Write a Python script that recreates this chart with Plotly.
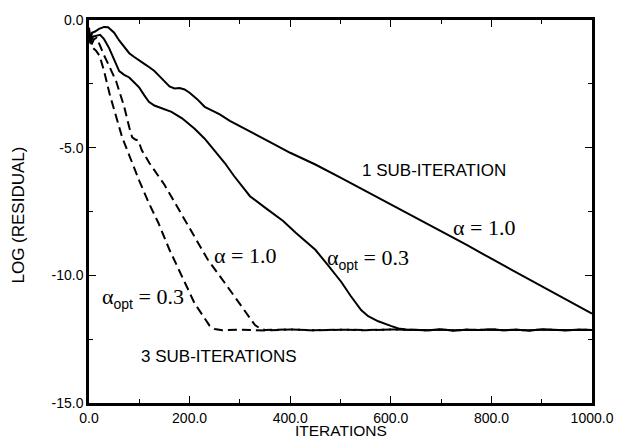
import plotly.graph_objects as go

# ---- data ----
flat_x = [650, 675, 700, 725, 750, 775, 800, 825, 850, 875, 900, 925, 950, 975, 1000]
flat_y = [-12.13, -12.15, -12.12, -12.16, -12.13, -12.14, -12.12, -12.15, -12.13, -12.16, -12.12, -12.14, -12.15, -12.13, -12.14]

one_alpha1_x = [0, 3, 6, 12, 20, 30, 38, 50, 60, 70, 80, 90, 100, 110, 120, 130, 140, 150, 160, 170, 180, 190,
                200, 215, 230, 245, 260, 280, 300, 320, 360, 400, 450, 500, 550, 600, 650, 700, 750, 800,
                850, 900, 950, 1000]
one_alpha1_y = [-0.3, -0.8, -0.5, -0.45, -0.35, -0.27, -0.28, -0.5, -0.8, -1.05, -1.3, -1.45, -1.6, -1.72, -1.85,
                -2.0, -2.2, -2.4, -2.6, -2.68, -2.66, -2.72, -2.85, -3.1, -3.4, -3.55, -3.7, -3.95, -4.15, -4.38,
                -4.78, -5.2, -5.66, -6.17, -6.69, -7.21, -7.74, -8.28, -8.8, -9.35, -9.88, -10.42, -10.95, -11.5]

one_opt_x = [0, 3, 8, 15, 22, 30, 40, 50, 60, 70, 80, 90, 100, 110, 119, 130, 145, 164, 185, 210, 230, 249, 270,
             288, 305, 320, 350, 372, 386, 411, 430, 450, 475, 502, 520, 541, 555, 575, 600, 615, 630]
one_opt_y = [-0.4, -0.9, -0.65, -0.62, -0.58, -0.75, -1.1, -1.55, -2.0, -2.15, -2.25, -2.45, -2.65, -2.95, -3.2,
             -3.35, -3.45, -3.6, -3.85, -4.26, -4.65, -5.1, -5.6, -6.1, -6.55, -6.9, -7.35, -7.67, -7.87, -8.33,
             -8.65, -9.0, -9.6, -10.27, -10.8, -11.36, -11.6, -11.8, -11.98, -12.08, -12.12]

three_alpha1_x = [0, 4, 10, 15, 22, 28, 40, 54, 62, 70, 80, 86, 92, 98, 105, 120, 150, 171, 191, 215, 236, 269,
                  290, 320, 330, 340, 350, 400, 450, 500, 550, 600]
three_alpha1_y = [-0.5, -1.0, -0.75, -0.7, -1.0, -1.3, -1.8, -2.4, -2.9, -3.4, -4.2, -4.6, -4.68, -4.72, -5.1,
                  -5.6, -6.45, -7.17, -7.8, -8.65, -9.38, -10.27, -10.85, -11.7, -11.95, -12.08, -12.14,
                  -12.12, -12.16, -12.13, -12.15, -12.12]

three_opt_x = [0, 4, 8, 14, 21, 30, 41, 50, 60, 66, 80, 100, 119, 138, 160, 177, 191, 210, 230, 240, 250, 265,
               300, 350, 400, 450, 500, 550, 600]
three_opt_y = [-0.6, -1.0, -1.1, -1.2, -1.4, -2.0, -2.9, -3.5, -4.2, -4.6, -5.3, -6.3, -7.17, -7.95, -9.0, -9.75,
               -10.3, -11.1, -11.7, -11.98, -12.1, -12.15, -12.13, -12.16, -12.12, -12.15, -12.13, -12.14, -12.12]

x_tickvals = [0, 200, 400, 600, 800, 1000]
x_ticktext = ["0.0", "200.0", "400.0", "600.0", "800.0", "1000.0"]
y_tickvals = [0, -5, -10, -15]
y_ticktext = ["0.0", "-5.0", "-10.0", "-15.0"]

SANS = "Liberation Sans, Arial, sans-serif"
SERIF = "Liberation Serif, Times New Roman, serif"

fig = go.Figure()
solid = dict(color="black", width=2)
dashed = dict(color="black", width=2, dash="9px,5px")

fig.add_trace(go.Scatter(x=one_alpha1_x, y=one_alpha1_y, mode="lines", line=solid))
fig.add_trace(go.Scatter(x=one_opt_x + flat_x, y=one_opt_y + flat_y, mode="lines", line=solid))
fig.add_trace(go.Scatter(x=three_alpha1_x + flat_x, y=three_alpha1_y + flat_y, mode="lines", line=dashed))
fig.add_trace(go.Scatter(x=three_opt_x + flat_x, y=three_opt_y + flat_y, mode="lines", line=dashed))

sub = "<sub><span style='font-family:Liberation Sans, Arial, sans-serif;font-size:14px'>opt</span></sub>"
annos = [
    dict(x=686, y=-5.89, text="1 SUB-ITERATION", font=dict(family=SANS, size=17)),
    dict(x=259, y=-13.18, text="3 SUB-ITERATIONS", font=dict(family=SANS, size=17)),
    dict(x=786, y=-8.14, text="α = 1.0", font=dict(family=SERIF, size=22)),
    dict(x=311, y=-9.22, text="α = 1.0", font=dict(family=SERIF, size=22)),
    dict(x=554, y=-9.35, text="α" + sub + " = 0.3", font=dict(family=SERIF, size=22)),
    dict(x=107, y=-10.9, text="α" + sub + " = 0.3", font=dict(family=SERIF, size=22)),
]
for a in annos:
    fig.add_annotation(xref="x", yref="y", showarrow=False, font_color="black",
                       xanchor="center", yanchor="middle", **a)

fig.add_annotation(xref="paper", yref="paper", x=0.501, y=-0.097, text="ITERATIONS",
                   xanchor="center", yanchor="bottom", borderpad=0,
                   showarrow=False, font=dict(family=SANS, size=15.5, color="black"))
fig.add_annotation(xref="paper", yref="paper", x=-0.140, y=0.491, text="LOG (RESIDUAL)", textangle=-90,
                   xanchor="center", yanchor="middle",
                   showarrow=False, font=dict(family=SANS, size=17, color="black"))

axis_common = dict(showgrid=False, zeroline=False, showline=True, linecolor="black", linewidth=2.5,
                   mirror="ticks", ticks="inside", ticklen=7, tickwidth=1.2, tickcolor="black",
                   tickfont=dict(family=SANS, size=14, color="black"), tickmode="array")

fig.update_xaxes(range=[0, 1000], tickvals=x_tickvals, ticktext=x_ticktext,
                 minor=dict(tickmode="linear", tick0=0, dtick=100, ticks="inside", ticklen=4, tickcolor="black"),
                 **axis_common)
fig.update_yaxes(range=[-15, 0], tickvals=y_tickvals, ticktext=y_ticktext,
                 minor=dict(tickmode="linear", tick0=0, dtick=2.5, ticks="inside", ticklen=4, tickcolor="black"),
                 **axis_common)

fig.update_layout(width=626, height=441, margin=dict(l=89, r=24, t=16, b=38),
                  plot_bgcolor="white", paper_bgcolor="white", showlegend=False)

fig.write_html("out.html")
